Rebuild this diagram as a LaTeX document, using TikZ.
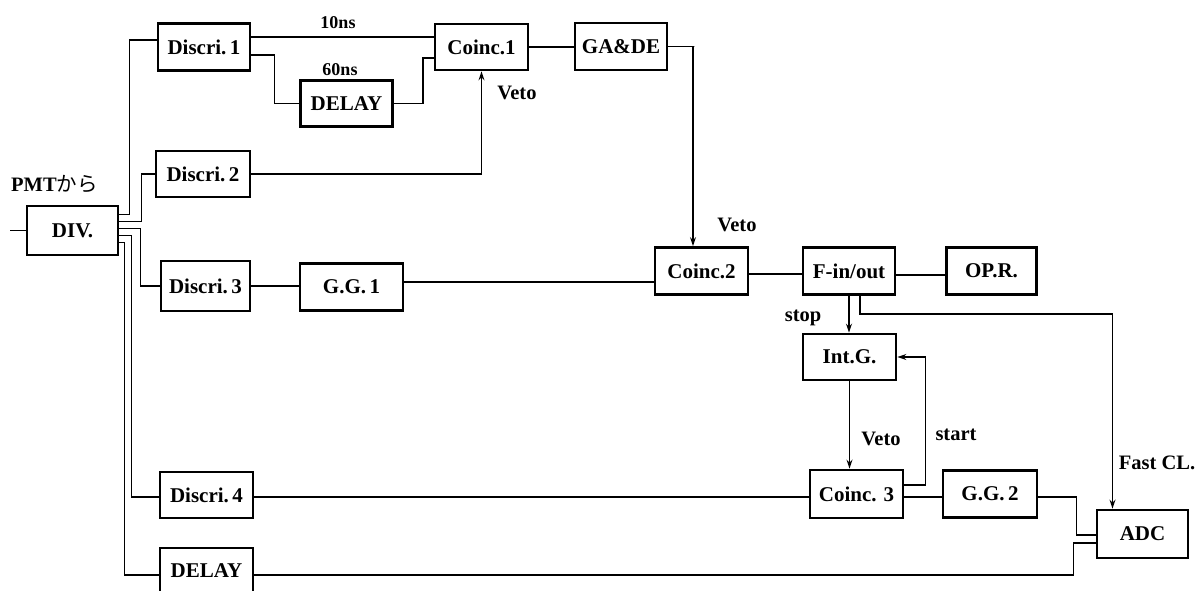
\documentclass[tikz,border=0pt]{standalone}
\usepackage{fontspec}
\setmainfont{Liberation Serif}
\newfontfamily\cjk{Noto Sans CJK JP}
\usetikzlibrary{arrows.meta}
\begin{document}
\begin{tikzpicture}[x=1pt,y=-1pt,
  blk/.style={draw,line width=2.8pt,minimum width=92pt,minimum height=47pt,inner sep=0pt,
              font=\fontsize{21}{25}\selectfont\bfseries},
  wire/.style={line width=1.5pt},
  arr/.style={wire,-{Stealth[length=9pt,width=6pt]}},
  lbl/.style={inner sep=0pt,font=\fontsize{20.5}{24}\selectfont\bfseries},
  nslbl/.style={inner sep=0pt,font=\fontsize{18}{22}\selectfont\bfseries}]
\useasboundingbox (0,0) rectangle (1196,591);

% blocks
\node[blk,minimum width=91pt,minimum height=49pt] (div) at (72.5,230.5) {DIV.};
\node[blk] (d1) at (204,47) {Discri.\,1};
\node[blk,minimum width=94pt,minimum height=46pt] (d2) at (203,174) {Discri.\,2};
\node[blk,minimum width=89pt,minimum height=50pt] (d3) at (205.5,286) {Discri.\,3};
\node[blk,minimum width=103pt] (gg1) at (351.5,287) {G.G.\,1};
\node[blk,minimum height=46pt] (dl1) at (346.5,103.5) {DELAY};
\node[blk,minimum width=93pt,minimum height=46pt] (c1) at (481.5,47) {Coinc.1};
\node[blk] (gade) at (621,46.5) {GA\&DE};
\node[blk,minimum width=93pt] (c2) at (701.5,271) {Coinc.2};
\node[blk] (fio) at (849,271) {F-in/out};
\node[blk,minimum width=90pt] (opr) at (991.5,271) {OP.R.};
\node[blk,minimum width=93pt,minimum height=46pt] (intg) at (849.5,357) {Int.G.};
\node[blk,minimum width=93pt,minimum height=48pt] (c3) at (856.5,494) {Coinc. 3};
\node[blk,minimum width=94pt] (gg2) at (990,494) {G.G.\,2};
\node[blk,minimum width=91pt,minimum height=48pt] (adc) at (1142.5,534) {ADC};
\node[blk,minimum width=93pt,minimum height=46pt] (d4) at (206.5,495) {Discri.\,4};
\node[blk,minimum width=93pt,minimum height=46pt] (dl2) at (206.5,571) {DELAY};

% input
\coordinate (pmt) at (10,230.5);
\node[lbl,anchor=west] (pmtl) at (11,184) {PMT{\cjk\mdseries から}};
\draw[wire] (pmt) -- (div.west);

% divider outputs
\draw[wire] ([yshift=16pt]div.east) -- ++(10,0) |- ([yshift=7pt]d1.west);
\draw[wire] ([yshift=9pt]div.east) -- ++(22,0) |- (d2.west);
\draw[wire] ([yshift=2pt]div.east) -- ++(21,0) |- (d3.west);
\draw[wire] ([yshift=-5pt]div.east) -- ++(12,0) |- ([yshift=-2pt]d4.west);
\draw[wire] ([yshift=-12pt]div.east) -- ++(5,0) |- ([yshift=-4pt]dl2.west);

% top branch
\draw[wire] ([yshift=10pt]d1.east) -- ([yshift=10pt]c1.west);
\draw[wire] ([yshift=-8pt]d1.east) -- ++(23,0) |- (dl1.west);
\draw[wire] (dl1.east) -- ++(29,0) |- ([yshift=-11pt]c1.west);
\draw[wire] (c1.east) -- (c1.east -| gade.west);
\draw[arr] (gade.east) -- ++(26,0) -| ([xshift=-8.5pt]c2.north);
\draw[arr] (d2.east) -| (c1.south);
\node[nslbl] (t10) at (338,23) {10ns};
\node[nslbl] (t60) at (340,70) {60ns};
\node[lbl] (veto1) at (517,93) {Veto};
\node[lbl] (veto2) at (737,225) {Veto};

% middle branch
\draw[wire] (d3.east) -- (d3.east -| gg1.west);
\draw[wire] ([yshift=5pt]gg1.east) -- ([yshift=5pt]gg1.east -| c2.west);
\draw[wire] ([yshift=-3pt]c2.east) -- ([yshift=-3pt]c2.east -| fio.west);
\draw[wire] ([yshift=-4pt]fio.east) -- ([yshift=-4pt]fio.east -| opr.west);
\draw[arr] (fio.south) -- (fio.south |- intg.north);
\draw[arr] ([xshift=11pt]fio.south) -- ++(0,18) -| ([xshift=-30pt]adc.north);
\draw[arr] (intg.south) -- (intg.south |- c3.north);
\draw[arr] ([yshift=9pt]c3.east) -- ++(21,0) |- (intg.east);
\node[lbl] (stop) at (803,318) {stop};
\node[lbl] (veto3) at (881,439) {Veto};
\node[lbl] (start) at (956,435) {start};
\node[lbl] (fcl) at (1157,463) {Fast CL.};

% bottom branch
\draw[wire] ([yshift=-2pt]d4.east) -- ([yshift=-2pt]d4.east -| c3.west);
\draw[wire] ([yshift=-3pt]c3.east) -- ([yshift=-3pt]c3.east -| gg2.west);
\draw[wire] ([yshift=-3pt]gg2.east) -- ++(38,0) |- ([yshift=-1pt]adc.west);
\draw[wire] ([yshift=-4pt]dl2.east) -| ([xshift=-22pt,yshift=-9pt]adc.west) -- ([yshift=-9pt]adc.west);
\end{tikzpicture}
\end{document}
